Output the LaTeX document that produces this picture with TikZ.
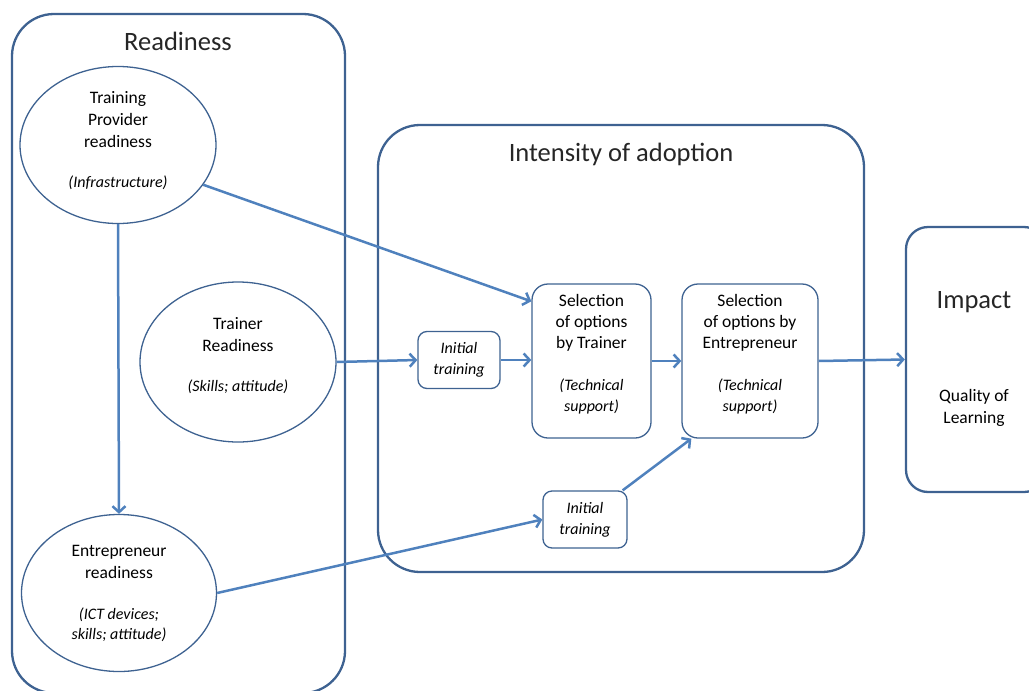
\documentclass[tikz,border=0pt]{standalone}
\usepackage{fontspec}
\setmainfont{Carlito}
\usetikzlibrary{arrows.meta,shapes.geometric}
\definecolor{frameblue}{RGB}{62,98,145}
\definecolor{arrowblue}{RGB}{79,129,189}
\newcommand{\note}[1]{{\fontsize{16}{20}\selectfont\itshape #1}}
\tikzset{
	bigbox/.style={draw=frameblue, line width=2.3pt, rounded corners=42pt, inner sep=0pt},
	bigtitle/.style={font=\fontsize{26.5}{30}\selectfont, text=black!85},
	oval/.style={ellipse, draw=frameblue, line width=1.3pt, align=center, inner sep=0pt, font=\fontsize{17.5}{22}\selectfont},
	optbox/.style={draw=frameblue, line width=1.3pt, rounded corners=16pt, align=center, inner sep=0pt, font=\fontsize{17.5}{21}\selectfont},
	flow/.style={draw=arrowblue, line width=2.5pt, -{Straight Barb[length=6pt,width=13pt,line width=2.5pt]}},
}
\begin{document}
\begin{tikzpicture}[x=1pt, y=-1pt]
\useasboundingbox (0,0) rectangle (1029,691);
\clip (0,0) rectangle (1029,691);
\node[bigbox, minimum width=333pt, minimum height=679pt] (ready) at (178.5,353.5) {};
\node[bigbox, minimum width=486pt, minimum height=447pt] (adopt) at (621,348.5) {};
\node[bigbox, rounded corners=22pt, minimum width=140pt, minimum height=265pt] (impact) at (976,359.5) {};
\node[bigtitle] (readyt) at (178,41) {Readiness};
\node[bigtitle] (adoptt) at (621,154) {Intensity of adoption};
\node[bigtitle] (impactt) at (974,302) {Impact};
\node[align=center, font=\fontsize{17.5}{22}\selectfont] (quality) at (974,408) {Quality of\\Learning};

\node[oval, minimum width=196pt, minimum height=157pt] (tp) at (118,145) {Training\\Provider\\readiness\\[18pt]\note{(Infrastructure)}\\[-10pt]\mbox{}};
\node[oval, minimum width=196pt, minimum height=160pt] (trainer) at (238,362) {Trainer\\Readiness\\[18pt]\note{(Skills; attitude)}\\[-6pt]\mbox{}};
\node[oval, minimum width=195pt, minimum height=157pt] (ent) at (119,593) {Entrepreneur\\readiness\\[19pt]\note{(ICT devices;}\\[-2pt]\note{skills; attitude)}};

\node[optbox, rounded corners=9pt, minimum width=82pt, minimum height=57pt] (initA) at (459,360) {\note{Initial}\\\note{training}};
\node[optbox, minimum width=119pt, minimum height=154pt] (selT) at (591.5,361) {Selection\\of options\\by Trainer\\[21pt]\note{(Technical}\\\note{support)}\\[-4pt]\mbox{}};
\node[optbox, minimum width=136pt, minimum height=154pt] (selE) at (750,361) {Selection\\of options by\\Entrepreneur\\[21pt]\note{(Technical}\\\note{support)}\\[-4pt]\mbox{}};
\node[optbox, rounded corners=9pt, minimum width=84pt, minimum height=57pt] (initB) at (585,519.5) {\note{Initial}\\\note{training}};

\path[flow] (tp.-25) -- ([yshift=-18pt]selT.north west);
\path[flow] (tp.south) -- (ent.north);
\path[flow] (trainer.east) -- (initA.west);
\path[flow] (initA.east) -- (initA.east -| selT.west);
\path[flow] (selT.east) -- (selE.west);
\path[flow] (selE.east) -- (impact.west);
\path[flow] (ent.east) -- (initB.west);
\path[flow] ([xshift=-5pt]initB.north east) -- ([xshift=10pt]selE.south west);
\end{tikzpicture}
\end{document}
